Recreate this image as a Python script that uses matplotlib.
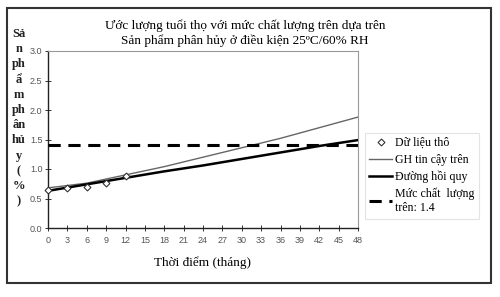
import matplotlib
matplotlib.use("Agg")
import matplotlib.pyplot as plt
from matplotlib.patches import Rectangle
from matplotlib.lines import Line2D

# Data
raw_months = [0, 3, 6, 9, 12]
raw_values = [0.64, 0.68, 0.70, 0.76, 0.88]
line_months = [0, 6, 12, 18, 24, 30, 36, 42, 48]
upper_ci = [0.68, 0.76, 0.90, 1.04, 1.20, 1.36, 1.52, 1.70, 1.88]
regression = [0.63, 0.74, 0.85, 0.96, 1.06, 1.17, 1.28, 1.39, 1.49]
spec_limit = 1.4
x_ticks = list(range(0, 49, 3))
y_ticks = [0.0, 0.5, 1.0, 1.5, 2.0, 2.5, 3.0]

title = "Ước lượng tuổi thọ với mức chất lượng trên dựa trên\nSản phẩm phân hủy ở điều kiện 25ºC/60% RH"
xlabel = "Thời điểm (tháng)"
ylabel_parts = ["Sả", "n", "ph", "ẩ", "m", "ph", "ân", "hủ", "y", "(", "%", ")"]
legend_labels = ["Dữ liệu thô", "GH tin cậy trên", "Đường hồi quy", "Mức chất  lượng\ntrên: 1.4"]

serif = ["Liberation Serif", "DejaVu Serif"]
sans = ["Liberation Sans", "DejaVu Sans"]

fig = plt.figure(figsize=(5.0, 2.97), dpi=100)
fig.patch.set_facecolor("white")

# outer frame
W, H = 500, 297
fig.patches.append(Rectangle((7 / W, 1 - 283 / H), (491 - 7) / W, (283 - 8) / H,
                             transform=fig.transFigure, fill=False,
                             edgecolor="#333333", linewidth=1.5))

ax = fig.add_axes([48 / W, 1 - 228 / H, (358 - 48) / W, (228 - 51) / H])
ax.set_xlim(0, 48)
ax.set_ylim(0, 3.0)

ax.plot(line_months, upper_ci, color="#666666", linewidth=1.0, zorder=3)
ax.plot(line_months, regression, color="black", linewidth=1.8, zorder=4)
ax.plot([0, 48], [spec_limit, spec_limit], color="black", linewidth=2.2,
        linestyle=(0, (4, 2.5)), zorder=4)
ax.plot(raw_months, raw_values, linestyle="none", marker="D", markersize=3.5,
        markerfacecolor="white", markeredgecolor="#333333", markeredgewidth=0.8,
        zorder=5, clip_on=False)

ax.set_xticks(x_ticks)
ax.set_yticks(y_ticks)
ax.set_xticklabels([str(v) for v in x_ticks], family=sans, fontsize=6.5, color="#555555")
ax.set_yticklabels([f"{v:.1f}" for v in y_ticks], family=sans, fontsize=6.5, color="#555555")
ax.tick_params(axis="x", direction="inout", length=4, width=0.7, color="#333333", pad=4)
ax.tick_params(axis="y", direction="inout", length=4, width=0.7, color="#333333", pad=2)

for s in ["left", "bottom"]:
    ax.spines[s].set_color("#222222")
    ax.spines[s].set_linewidth(1.0)
for s in ["top", "right"]:
    ax.spines[s].set_color("#999999")
    ax.spines[s].set_linewidth(0.8)

fig.text(245 / W, 1 - 33 / H, title, ha="center", va="center", family=serif,
         fontsize=9.5, linespacing=1.25)
fig.text(203 / W, 1 - 263 / H, xlabel, ha="center", va="center", family=serif, fontsize=9.5)

y0 = 34
for i, part in enumerate(ylabel_parts):
    fig.text(19 / W, 1 - (y0 + i * 15.2) / H, part, ha="center", va="center",
             family=serif, fontsize=9, fontweight="bold", color="#222222")

handles = [
    Line2D([], [], linestyle="none", marker="D", markersize=3.5, markerfacecolor="white",
           markeredgecolor="#333333", markeredgewidth=0.8),
    Line2D([], [], color="#666666", linewidth=1.0),
    Line2D([], [], color="black", linewidth=1.8),
    Line2D([], [], color="black", linewidth=2.2, linestyle=(0, (4, 2.5))),
]
leg = fig.legend(handles, legend_labels, loc="upper left",
                 bbox_to_anchor=(365 / W, 1 - 133 / H), borderaxespad=0,
                 prop={"family": serif, "size": 8.6}, frameon=True, fancybox=False,
                 handlelength=1.9, handletextpad=0.3, borderpad=0.35, labelspacing=0.38)
leg.get_texts()[3].set_linespacing(1.3)
leg.get_frame().set_edgecolor("#dddddd")
leg.get_frame().set_linewidth(0.8)

fig.savefig("out.png", dpi=100)
